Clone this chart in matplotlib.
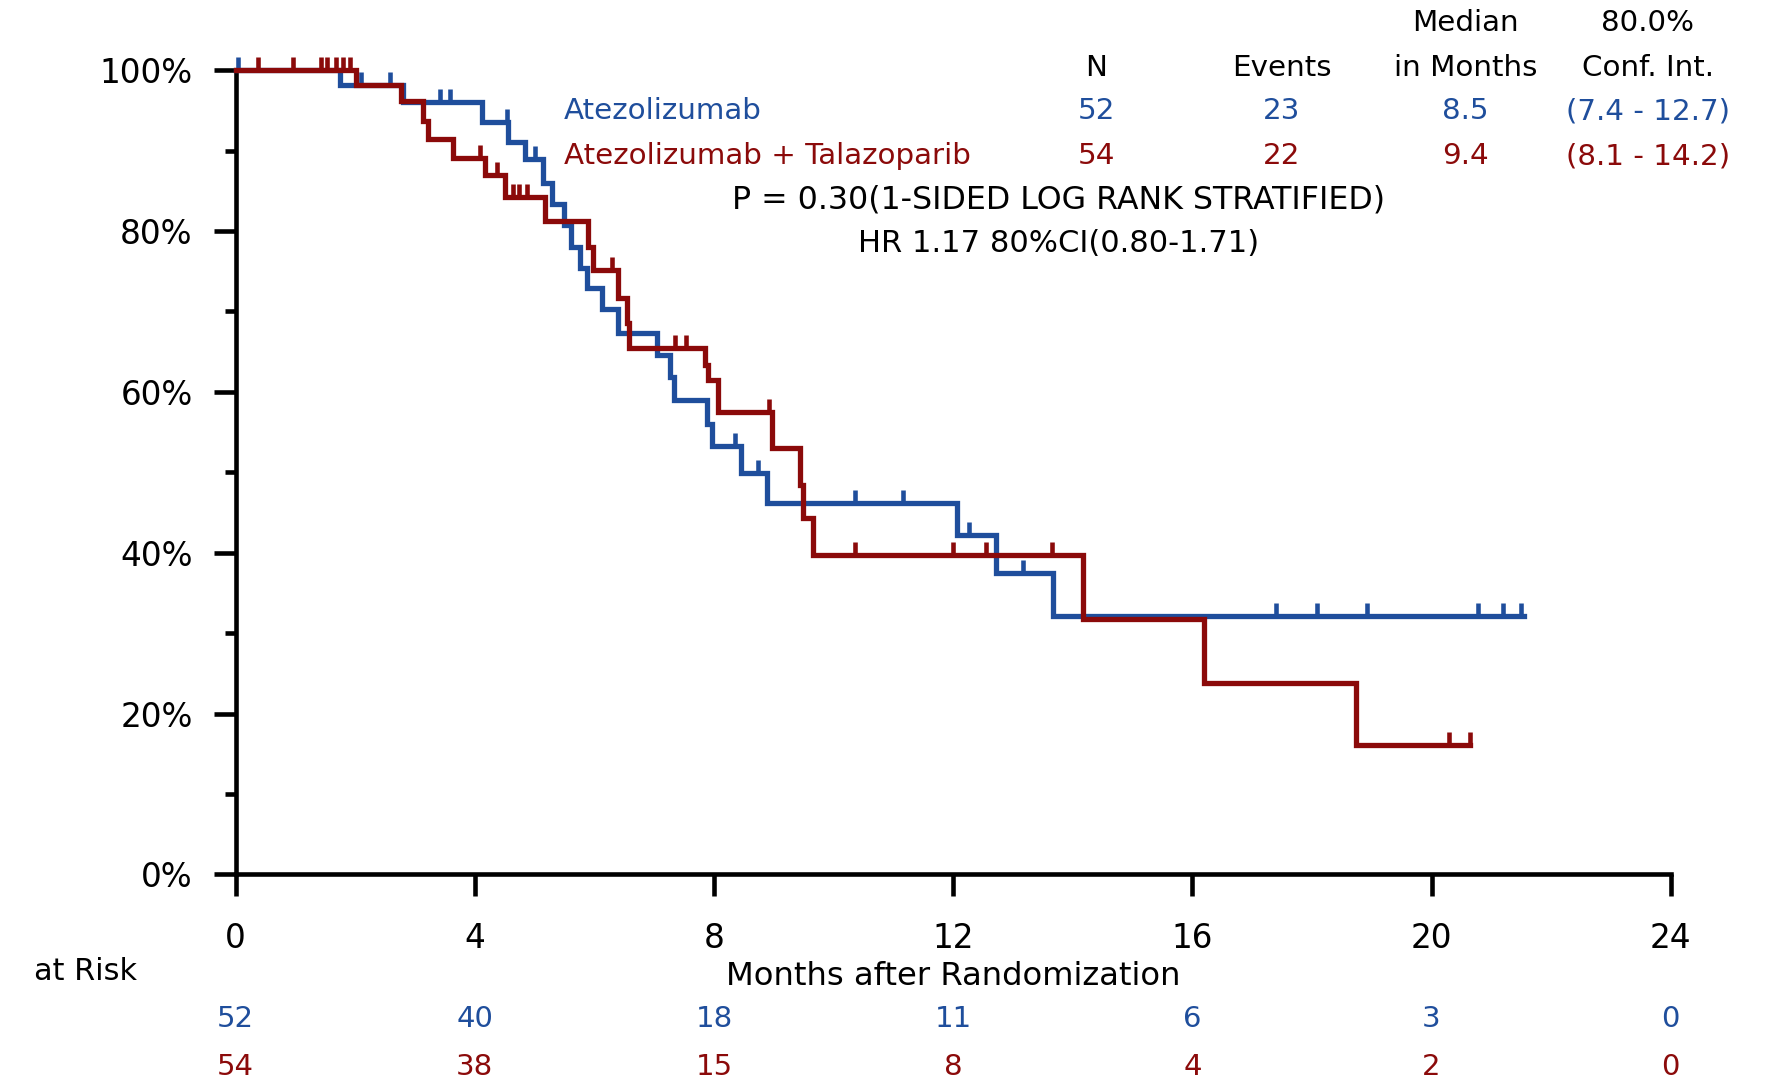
import matplotlib
matplotlib.use('Agg')
import matplotlib.pyplot as plt
import matplotlib.transforms as mtransforms
from matplotlib.path import Path
import numpy as np

plt.rcParams['font.family'] = ['DejaVu Sans']

blue = '#1f4e9c'
red = '#8b0a0a'

# Atezolizumab: step times (months) and survival (%) after each step
atezo_t = [0, 1.75, 2.80, 4.12, 4.56, 4.84, 5.14, 5.29, 5.49, 5.60, 5.76, 5.87,
           6.12, 6.40, 7.05, 7.27, 7.33, 7.88, 7.97, 8.45, 8.88, 12.06, 12.71, 13.67]
atezo_s = [100, 98.1, 96.1, 93.6, 91.1, 88.9, 86.0, 83.4, 80.8, 78.0, 75.4, 72.9,
           70.3, 67.3, 64.6, 61.8, 59.0, 56.0, 53.3, 49.9, 46.2, 42.2, 37.5, 32.1]
atezo_end = 21.55
atezo_cens = [0.04, 2.10, 2.58, 3.42, 3.58, 4.54, 5.00, 8.35, 8.74, 10.36, 11.16,
              12.27, 13.16, 17.40, 18.09, 18.92, 20.77, 21.20, 21.50]

# Atezolizumab + Talazoparib
combo_t = [0, 2.01, 2.77, 3.14, 3.22, 3.64, 4.17, 4.50, 5.18, 5.90, 5.98, 6.40,
           6.54, 6.58, 7.85, 7.90, 8.07, 8.97, 9.43, 9.48, 9.66, 14.17, 16.20, 18.74]
combo_s = [100, 98.1, 96.2, 93.7, 91.4, 89.1, 87.0, 84.2, 81.2, 78.0, 75.2, 71.7,
           68.6, 65.4, 63.4, 61.5, 57.5, 53.0, 48.4, 44.3, 39.7, 31.8, 23.8, 16.1]
combo_end = 20.64
combo_cens = [0.37, 0.96, 1.43, 1.52, 1.68, 1.80, 1.91, 4.09, 4.37, 4.64, 4.74, 4.87,
              6.30, 7.35, 7.53, 8.92, 10.36, 12.00, 12.55, 13.65, 20.30, 20.64]

risk_times = [0, 4, 8, 12, 16, 20, 24]
risk_atezo = [52, 40, 18, 11, 6, 3, 0]
risk_combo = [54, 38, 15, 8, 4, 2, 0]

arms = ['Atezolizumab', 'Atezolizumab + Talazoparib']
n_pat = ['52', '54']
n_events = ['23', '22']
medians = ['8.5', '9.4']
conf_int = ['(7.4 - 12.7)', '(8.1 - 14.2)']

fig = plt.figure(figsize=(17.76, 10.86), dpi=100)
ax = fig.add_axes([0.1327, 0.1948, 0.808, 0.7406])

tick_path = Path([(0, 0), (0, 1)], [Path.MOVETO, Path.LINETO])


def surv_at(t, s, times):
    idx = np.searchsorted(t, times, side='right') - 1
    return np.array(s)[idx]


for t, s, end, cens, col in [(atezo_t, atezo_s, atezo_end, atezo_cens, blue),
                             (combo_t, combo_s, combo_end, combo_cens, red)]:
    ax.step(t + [end], s + [s[-1]], where='post', color=col, lw=3.8,
            clip_on=False, solid_joinstyle='miter', zorder=3)
    ax.plot(cens, surv_at(t, s, cens), ls='none', marker=tick_path, ms=19,
            mew=3.3, color=col, clip_on=False, zorder=3)

ax.set_xlim(0, 24)
ax.set_ylim(0, 100)
ax.set_xticks(risk_times)
ax.set_yticks(range(0, 101, 20))
ax.set_yticks(range(10, 100, 20), minor=True)
ax.set_yticklabels([f'{v}%' for v in range(0, 101, 20)])
for side in ['top', 'right']:
    ax.spines[side].set_visible(False)
for side in ['left', 'bottom']:
    ax.spines[side].set_linewidth(3.3)
ax.tick_params(which='major', direction='out', length=16, width=3.3, labelsize=23.5)
ax.tick_params(which='minor', direction='out', length=8, width=3.3)
ax.tick_params(axis='y', pad=15)
ax.tick_params(axis='x', pad=18)

# summary table
fs = 21.2
for x, lab in [(20.57, 'Median'), (23.62, '80.0%')]:
    ax.text(x, 105.9, lab, ha='center', va='center', fontsize=fs, clip_on=False)
for x, lab in [(14.39, 'N'), (17.5, 'Events'), (20.57, 'in Months'), (23.62, 'Conf. Int.')]:
    ax.text(x, 100.3, lab, ha='center', va='center', fontsize=fs, clip_on=False)
for i, (yrow, col) in enumerate([(94.9, blue), (89.3, red)]):
    ax.text(5.49, yrow, arms[i], ha='left', va='center', fontsize=fs, color=col)
    ax.text(14.39, yrow, n_pat[i], ha='center', va='center', fontsize=fs, color=col)
    ax.text(17.5, yrow, n_events[i], ha='center', va='center', fontsize=fs, color=col)
    ax.text(20.57, yrow, medians[i], ha='center', va='center', fontsize=fs, color=col)
    ax.text(23.62, yrow, conf_int[i], ha='center', va='center', fontsize=fs, color=col,
            clip_on=False)
ax.text(13.77, 83.8, 'P = 0.30(1-SIDED LOG RANK STRATIFIED)', ha='center', va='center',
        fontsize=22.8)
ax.text(13.77, 78.5, 'HR 1.17 80%CI(0.80-1.71)', ha='center', va='center', fontsize=22.1)

# axis label and numbers at risk
trans = mtransforms.blended_transform_factory(ax.transData, fig.transFigure)
ax.text(12, 0.101, 'Months after Randomization', transform=trans, ha='center',
        va='center', fontsize=23.2)
fig.text(0.019, 0.105, 'at Risk', ha='left', va='center', fontsize=21.8)
for x, a, c in zip(risk_times, risk_atezo, risk_combo):
    ax.text(x, 0.0613, str(a), transform=trans, ha='center', va='center',
            fontsize=21, color=blue)
    ax.text(x, 0.0175, str(c), transform=trans, ha='center', va='center',
            fontsize=21, color=red)

fig.savefig('out.png', dpi=100, facecolor='white')
